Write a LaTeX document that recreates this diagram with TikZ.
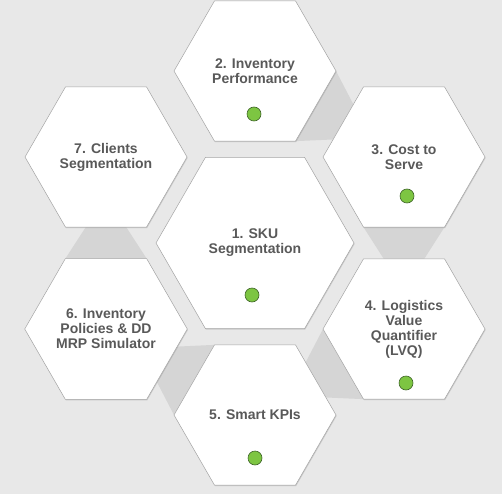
\documentclass[tikz,border=0pt]{standalone}
\usepackage{fontspec}
\setmainfont{Liberation Sans}
\usetikzlibrary{shapes.geometric,calc,shadows}

\definecolor{backgray}{RGB}{232,232,232}
\definecolor{linkgray}{RGB}{213,213,213}
\definecolor{rimgray}{RGB}{165,165,165}
\definecolor{textgray}{RGB}{89,89,89}
\definecolor{dotgreen}{RGB}{125,197,66}
\definecolor{dotrim}{RGB}{62,100,40}

\pgfdeclarelayer{back}
\pgfdeclarelayer{links}
\pgfsetlayers{back,links,main}

\tikzset{
  hexbox/.style={regular polygon, regular polygon sides=6, minimum size=162pt,
    inner sep=0pt, outer sep=0pt, fill=white, draw=rimgray, line width=0.5pt,
    drop shadow={shadow xshift=0.6pt, shadow yshift=-1pt, opacity=0.3},
    text=textgray, align=center, font=\fontsize{14}{15}\selectfont\bfseries},
  bighex/.style={hexbox, minimum size=198pt},
  okdot/.style={circle, minimum size=14pt, inner sep=0pt, fill=dotgreen,
    draw=dotrim, line width=0.6pt},
  link/.style={fill=linkgray}
}

\begin{document}
\begin{tikzpicture}[x=1pt, y=-1pt]
  \begin{pgfonlayer}{back}
    \fill[backgray] (0,0) rectangle (502,494);
  \end{pgfonlayer}
  \useasboundingbox (0,0) rectangle (502,494);

  % centre cell
  \node[bighex] (h1) at (255,243) {1. SKU\\Segmentation};

  % ring of cells
  \node[hexbox] (h2) at (255,71) {2. Inventory\\Performance};
  \node[hexbox] (h3) at (404,157) {3. Cost to\\Serve};
  \node[hexbox] (h4) at (404,329) {4. Logistics\\Value\\Quantifier\\(LVQ)};
  \node[hexbox] (h5) at (255,415) {5. Smart KPIs};
  \node[hexbox] (h6) at (106,329) {6. Inventory\\Policies \& DD\\MRP Simulator};
  \node[hexbox] (h7) at (106,157) {7. Clients\\Segmentation};

  % status dots
  \node[okdot] (d1) at (252,295) {};
  \node[okdot] (d2) at (254,114) {};
  \node[okdot] (d3) at (407,196) {};
  \node[okdot] (d4) at (406,383) {};
  \node[okdot] (d5) at (255,458) {};

  % flow from cell to cell
  \begin{pgfonlayer}{links}
    \foreach \a/\b/\p/\q/\r/\s in {h2/h3/0/300/180/120, h3/h4/240/300/60/120,
        h4/h5/180/240/0/60, h5/h6/120/180/300/0, h6/h7/120/60/300/240}
      \fill[link] (\a.\p) -- (\a.\q) -- ($(\b.\r)!.25!(\b.\s)$)
        -- ($(\b.\r)!.75!(\b.\s)$) -- cycle;
  \end{pgfonlayer}
\end{tikzpicture}
\end{document}
